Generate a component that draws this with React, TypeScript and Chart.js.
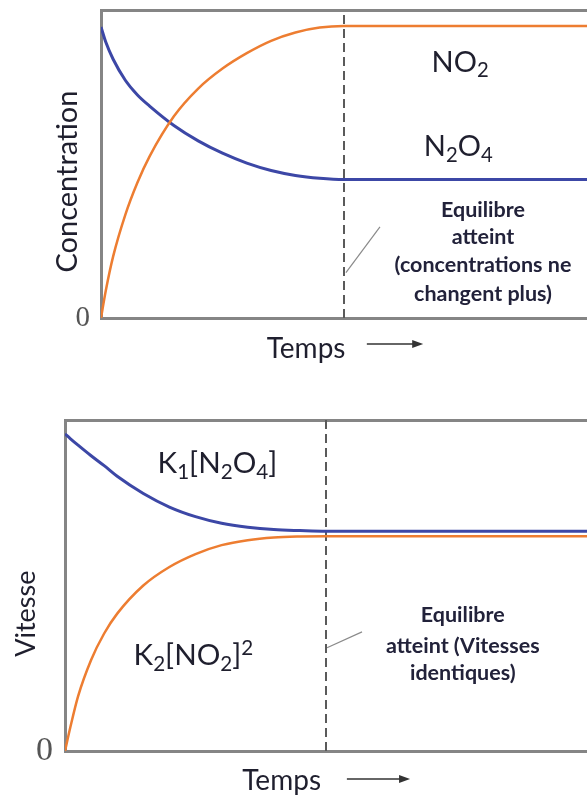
import React, { useEffect, useRef } from 'react';
import { Chart, registerables } from 'chart.js';

Chart.register(...registerables);

// ---------- data ----------
const TIME = [0, 0.1, 0.25, 0.5, 0.75, 1, 1.5, 2, 2.5, 3, 3.5, 4, 4.5, 5, 6, 8, 10];
const NO2_CONC = [0, 0.09, 0.2, 0.335, 0.44, 0.525, 0.655, 0.745, 0.81, 0.86, 0.9, 0.927, 0.943, 0.948, 0.948, 0.948, 0.948];
const N2O4_CONC = [0.945, 0.895, 0.84, 0.772, 0.724, 0.688, 0.625, 0.575, 0.535, 0.503, 0.479, 0.463, 0.454, 0.45, 0.45, 0.45, 0.45];
const RATE_FORWARD = [0.958, 0.944, 0.924, 0.892, 0.862, 0.83, 0.778, 0.737, 0.708, 0.688, 0.676, 0.669, 0.666, 0.664, 0.664, 0.664, 0.664];
const RATE_REVERSE = [0, 0.07, 0.165, 0.275, 0.355, 0.415, 0.5, 0.556, 0.595, 0.622, 0.637, 0.645, 0.648, 0.649, 0.649, 0.649, 0.649];
const EQUILIBRIUM_TIME = 5;
const TIME_MAX = 10;
const TOP_LEADER_X = [5.04, 5.74];
const TOP_LEADER_Y = [0.147, 0.296];
const BOTTOM_LEADER_X = [5.02, 5.69];
const BOTTOM_LEADER_Y = [0.312, 0.36];
const Y_TICKS = [0];

// ---------- styles ----------
const FONT = 'Lato, "Open Sans", sans-serif';
const INK = '#1f1f2e';
const NOTE_INK = '#22223a';
const ORANGE = '#ED7D31';
const BLUE = '#3C47A6';
const FRAME = '#858585';
const DASH = '#5a5a5a';

type Seg = { t: string; mode?: 'sub' | 'sup' };
type Lbl = {
  segs: Seg[];
  at: (c: any) => [number, number];
  size: number;
  weight?: string;
  rotate?: boolean;
  color?: string;
};
type Arrow = { at: (c: any) => [number, number, number] };

function drawRich(ctx: CanvasRenderingContext2D, segs: Seg[], cx: number, cy: number, size: number, weight: string, color: string, rotate?: boolean) {
  ctx.save();
  ctx.translate(cx, cy);
  if (rotate) ctx.rotate(-Math.PI / 2);
  const parts = segs.map((s) => {
    const fs = s.mode ? size * 0.7 : size;
    ctx.font = `${weight} ${fs}px ${FONT}`;
    return { s, fs, w: ctx.measureText(s.t).width };
  });
  const total = parts.reduce((a, p) => a + p.w, 0);
  let x = -total / 2;
  const base = size * 0.36;
  ctx.fillStyle = color;
  ctx.textBaseline = 'alphabetic';
  ctx.textAlign = 'left';
  for (const p of parts) {
    ctx.font = `${weight} ${p.fs}px ${FONT}`;
    const dy = p.s.mode === 'sub' ? size * 0.2 : p.s.mode === 'sup' ? -size * 0.34 : 0;
    ctx.fillText(p.s.t, x, base + dy);
    x += p.w;
  }
  ctx.restore();
}

function textPlugin(labels: Lbl[], arrows: Arrow[]) {
  return {
    id: 'texts',
    afterDraw(chart: any) {
      const ctx = chart.ctx as CanvasRenderingContext2D;
      for (const l of labels) {
        const [x, y] = l.at(chart);
        drawRich(ctx, l.segs, x, y, l.size, l.weight || 'normal', l.color || INK, l.rotate);
      }
      for (const a of arrows) {
        const [x1, x2, y] = a.at(chart);
        ctx.save();
        ctx.strokeStyle = '#333';
        ctx.fillStyle = '#333';
        ctx.lineWidth = 1.5;
        ctx.beginPath();
        ctx.moveTo(x1, y);
        ctx.lineTo(x2 - 8, y);
        ctx.stroke();
        ctx.beginPath();
        ctx.moveTo(x2, y);
        ctx.lineTo(x2 - 11, y - 4);
        ctx.lineTo(x2 - 11, y + 4);
        ctx.closePath();
        ctx.fill();
        ctx.restore();
      }
    },
  };
}

const zeroPad = (s: any) => {
  s.paddingTop = 0;
  s.paddingBottom = 0;
  s.paddingLeft = 0;
  s.paddingRight = 0;
};

function makeOptions(pad: { left: number; top: number; bottom: number }, zeroSize: number, zeroPadding: number) {
  const hAxis = (position: string) => ({
    type: 'linear',
    position,
    min: 0,
    max: TIME_MAX,
    grid: { display: false, drawTicks: false },
    ticks: { display: false },
    border: { display: true, color: FRAME, width: 3 },
    afterFit: (s: any) => {
      s.height = 0;
      zeroPad(s);
    },
  });
  return {
    responsive: false,
    animation: false,
    layout: { padding: { left: 0, top: pad.top, right: 0, bottom: pad.bottom } },
    plugins: { legend: { display: false }, tooltip: { enabled: false } },
    elements: { point: { radius: 0 } },
    scales: {
      x: hAxis('bottom'),
      xTop: hAxis('top'),
      y: {
        type: 'linear',
        min: 0,
        max: 1,
        grid: { display: false, drawTicks: false },
        border: { display: true, color: FRAME, width: 3 },
        afterBuildTicks: (s: any) => {
          s.ticks = Y_TICKS.map((v) => ({ value: v }));
        },
        ticks: {
          padding: zeroPadding,
          color: '#555',
          autoSkip: false,
          font: { family: '"Liberation Serif", "DejaVu Serif", serif', size: zeroSize },
          callback: (v: any) => String(v),
        },
        afterFit: (s: any) => {
          s.width = pad.left;
          zeroPad(s);
        },
      },
    },
  };
}

const pts = (xs: number[], ys: number[]) => xs.map((x, i) => ({ x, y: ys[i] }));

function curve(data: number[], color: string, width: number) {
  return {
    data: pts(TIME, data),
    borderColor: color,
    borderWidth: width,
    cubicInterpolationMode: 'monotone',
    fill: false,
  };
}

function dashed() {
  return {
    data: pts([EQUILIBRIUM_TIME, EQUILIBRIUM_TIME], [0, 1]),
    borderColor: DASH,
    borderWidth: 2,
    borderDash: [9, 5],
    fill: false,
    clip: 4,
  };
}

function leader(xs: number[], ys: number[]) {
  return { data: pts(xs, ys), borderColor: '#8a8a8a', borderWidth: 1.2, fill: false };
}

const sx = (c: any, v: number) => c.scales.x.getPixelForValue(v);
const sy = (c: any, v: number) => c.scales.y.getPixelForValue(v);

const NOTE = 21.5;

const TOP_LABELS: Lbl[] = [
  { segs: [{ t: 'NO' }, { t: '2', mode: 'sub' }], at: (c) => [sx(c, 7.39), sy(c, 0.834)], size: 29 },
  { segs: [{ t: 'N' }, { t: '2', mode: 'sub' }, { t: 'O' }, { t: '4', mode: 'sub' }], at: (c) => [sx(c, 7.35), sy(c, 0.56)], size: 29 },
  { segs: [{ t: 'Equilibre' }], at: (c) => [sx(c, 7.86), sy(c, 0.352)], size: NOTE, weight: 'bold', color: NOTE_INK },
  { segs: [{ t: 'atteint' }], at: (c) => [sx(c, 7.86), sy(c, 0.264)], size: NOTE, weight: 'bold', color: NOTE_INK },
  { segs: [{ t: '(concentrations ne' }], at: (c) => [sx(c, 7.86), sy(c, 0.173)], size: NOTE, weight: 'bold', color: NOTE_INK },
  { segs: [{ t: 'changent plus)' }], at: (c) => [sx(c, 7.86), sy(c, 0.081)], size: NOTE, weight: 'bold', color: NOTE_INK },
  { segs: [{ t: 'Concentration' }], at: (c) => [c.chartArea.left - 34, sy(c, 0.443)], size: 29, rotate: true },
  { segs: [{ t: 'Temps' }], at: (c) => [sx(c, 4.22), c.chartArea.bottom + 30], size: 28 },
];
const TOP_ARROWS: Arrow[] = [{ at: (c) => [sx(c, 5.47), sx(c, 6.63), c.chartArea.bottom + 26] }];

const BOTTOM_LABELS: Lbl[] = [
  {
    segs: [{ t: 'K' }, { t: '1', mode: 'sub' }, { t: '[N' }, { t: '2', mode: 'sub' }, { t: 'O' }, { t: '4', mode: 'sub' }, { t: ']' }],
    at: (c) => [sx(c, 2.92), sy(c, 0.873)],
    size: 29.5,
  },
  {
    segs: [{ t: 'K' }, { t: '2', mode: 'sub' }, { t: '[NO' }, { t: '2', mode: 'sub' }, { t: ']' }, { t: '2', mode: 'sup' }],
    at: (c) => [sx(c, 2.46), sy(c, 0.291)],
    size: 29.5,
  },
  { segs: [{ t: 'Equilibre' }], at: (c) => [sx(c, 7.62), sy(c, 0.412)], size: NOTE, weight: 'bold', color: NOTE_INK },
  { segs: [{ t: 'atteint (Vitesses' }], at: (c) => [sx(c, 7.62), sy(c, 0.32)], size: NOTE, weight: 'bold', color: NOTE_INK },
  { segs: [{ t: 'identiques)' }], at: (c) => [sx(c, 7.62), sy(c, 0.238)], size: NOTE, weight: 'bold', color: NOTE_INK },
  { segs: [{ t: 'Vitesse' }], at: (c) => [c.chartArea.left - 40, sy(c, 0.415)], size: 27, rotate: true },
  { segs: [{ t: 'Temps' }], at: (c) => [sx(c, 4.15), c.chartArea.bottom + 29], size: 28 },
];
const BOTTOM_ARROWS: Arrow[] = [{ at: (c) => [sx(c, 5.4), sx(c, 6.61), c.chartArea.bottom + 28] }];

function ChartBox(props: { top: number; height: number; build: (cv: HTMLCanvasElement) => Chart }) {
  const ref = useRef<HTMLCanvasElement | null>(null);
  useEffect(() => {
    if (!ref.current) return;
    const ch = props.build(ref.current);
    return () => ch.destroy();
  }, []);
  return (
    <div style={{ position: 'absolute', left: 0, top: props.top, width: 587, height: props.height }}>
      <canvas ref={ref} width={587} height={props.height} style={{ display: 'block' }} />
    </div>
  );
}

export default function App() {
  const buildTop = (cv: HTMLCanvasElement) =>
    new Chart(cv, {
      type: 'line',
      data: {
        datasets: [
          curve(NO2_CONC, ORANGE, 2.5),
          curve(N2O4_CONC, BLUE, 3),
          dashed(),
          leader(TOP_LEADER_X, TOP_LEADER_Y),
        ] as any,
      },
      options: makeOptions({ left: 101, top: 10, bottom: 52 }, 29, 11) as any,
      plugins: [textPlugin(TOP_LABELS, TOP_ARROWS)],
    });
  const buildBottom = (cv: HTMLCanvasElement) =>
    new Chart(cv, {
      type: 'line',
      data: {
        datasets: [
          curve(RATE_REVERSE, ORANGE, 2.5),
          curve(RATE_FORWARD, BLUE, 3),
          dashed(),
          leader(BOTTOM_LEADER_X, BOTTOM_LEADER_Y),
        ] as any,
      },
      options: makeOptions({ left: 65, top: 50, bottom: 45 }, 34, 12) as any,
      plugins: [textPlugin(BOTTOM_LABELS, BOTTOM_ARROWS)],
    });
  return (
    <div style={{ position: 'absolute', left: 0, top: 0, width: 587, height: 796, background: '#fff' }}>
      <ChartBox top={0} height={370} build={buildTop} />
      <ChartBox top={370} height={426} build={buildBottom} />
    </div>
  );
}
